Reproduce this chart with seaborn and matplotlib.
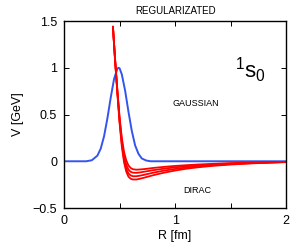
import numpy as np
import pandas as pd
import matplotlib
matplotlib.use("Agg")
import matplotlib.pyplot as plt
import seaborn as sns

# Gaussian-regularized potential (blue)
gauss_r = [0.0, 0.20, 0.25, 0.30, 0.33, 0.36, 0.39, 0.42, 0.45, 0.48, 0.49, 0.50,
           0.52, 0.55, 0.58, 0.61, 0.64, 0.67, 0.70, 0.74, 0.78, 2.0]
gauss_v = [0.0, 0.0, 0.011, 0.06, 0.135, 0.267, 0.458, 0.68, 0.88, 0.99, 1.0, 0.995,
           0.93, 0.755, 0.53, 0.325, 0.17, 0.08, 0.03, 0.008, 0.0, 0.0]

# Dirac-regularized potentials (red), four cutoffs
dirac_r = [0.44, 0.46, 0.48, 0.50, 0.52, 0.54, 0.56, 0.58, 0.60, 0.62, 0.65, 0.68, 0.72,
           0.76, 0.80, 0.90, 1.00, 1.10, 1.20, 1.35, 1.50, 1.70, 2.00]
dirac_v1 = [1.44, 1.08, 0.76, 0.47, 0.25, 0.10, 0.01, -0.045, -0.072, -0.085, -0.09, -0.088,
            -0.084, -0.078, -0.072, -0.06, -0.05, -0.042, -0.035, -0.027, -0.02, -0.013, -0.006]
dirac_v2 = [1.44, 1.08, 0.75, 0.45, 0.22, 0.06, -0.04, -0.09, -0.113, -0.122, -0.124, -0.12,
            -0.112, -0.104, -0.096, -0.079, -0.065, -0.054, -0.045, -0.034, -0.025, -0.016, -0.007]
dirac_v3 = [1.44, 1.07, 0.74, 0.43, 0.19, 0.02, -0.08, -0.13, -0.152, -0.16, -0.16, -0.155,
            -0.145, -0.134, -0.123, -0.1, -0.082, -0.067, -0.055, -0.041, -0.03, -0.019, -0.008]
dirac_v4 = [1.44, 1.07, 0.73, 0.41, 0.16, -0.01, -0.11, -0.165, -0.187, -0.195, -0.195, -0.188,
            -0.176, -0.163, -0.15, -0.122, -0.099, -0.08, -0.065, -0.048, -0.035, -0.022, -0.009]

x_ticks = [0, 0.5, 1, 1.5, 2]
x_tick_labels = ["0", "", "1", "", "2"]
y_ticks = [-0.5, 0, 0.5, 1, 1.5]
y_tick_labels = ["\u22120.5", "0", "0.5", "1", "1.5"]

sns.set_style("ticks")
plt.rcParams["font.family"] = ["Liberation Sans", "DejaVu Sans"]
plt.rcParams["mathtext.fontset"] = "custom"
plt.rcParams["mathtext.rm"] = "Liberation Sans"
plt.rcParams["mathtext.it"] = "Liberation Sans"
plt.rcParams["xtick.direction"] = "in"
plt.rcParams["ytick.direction"] = "in"
for key in ["text.color", "axes.labelcolor", "xtick.color", "ytick.color"]:
    plt.rcParams[key] = "black"

fig = plt.figure(figsize=(2.94, 2.45), dpi=100)
ax = fig.add_axes([0.218, 0.151, 0.755, 0.763])

gauss_df = pd.DataFrame({"R": gauss_r, "V": gauss_v})
sns.lineplot(data=gauss_df, x="R", y="V", ax=ax, color="#3355ee", lw=1.4,
             estimator=None, sort=False)

for v in [dirac_v1, dirac_v2, dirac_v3, dirac_v4]:
    df = pd.DataFrame({"R": dirac_r, "V": v})
    sns.lineplot(data=df, x="R", y="V", ax=ax, color="red", lw=1.3,
                 estimator=None, sort=False)

ax.set_xlim(0, 2)
ax.set_ylim(-0.5, 1.5)
ax.set_xticks(x_ticks)
ax.set_xticklabels(x_tick_labels)
ax.set_yticks(y_ticks)
ax.set_yticklabels(y_tick_labels)
ax.tick_params(axis="both", which="major", labelsize=9, length=3.5, width=0.7,
               top=True, right=True, pad=5)
for s in ax.spines.values():
    s.set_linewidth(1.0)
    s.set_color("black")

ax.set_xlabel("R [fm]", fontsize=9, labelpad=2)
ax.set_ylabel("V [GeV]", fontsize=9, labelpad=6)
ax.set_title("REGULARIZATED", fontsize=7, pad=5)

ax.text(1.19, 0.62, "GAUSSIAN", fontsize=6.5, ha="center", va="center")
ax.text(1.2, -0.31, "DIRAC", fontsize=6.5, ha="center", va="center")
ax.text(1.54, 0.97, r"$^{1}\mathrm{s}_{0}$", fontsize=16, ha="left", va="center")

fig.savefig("out.png", dpi=100)
